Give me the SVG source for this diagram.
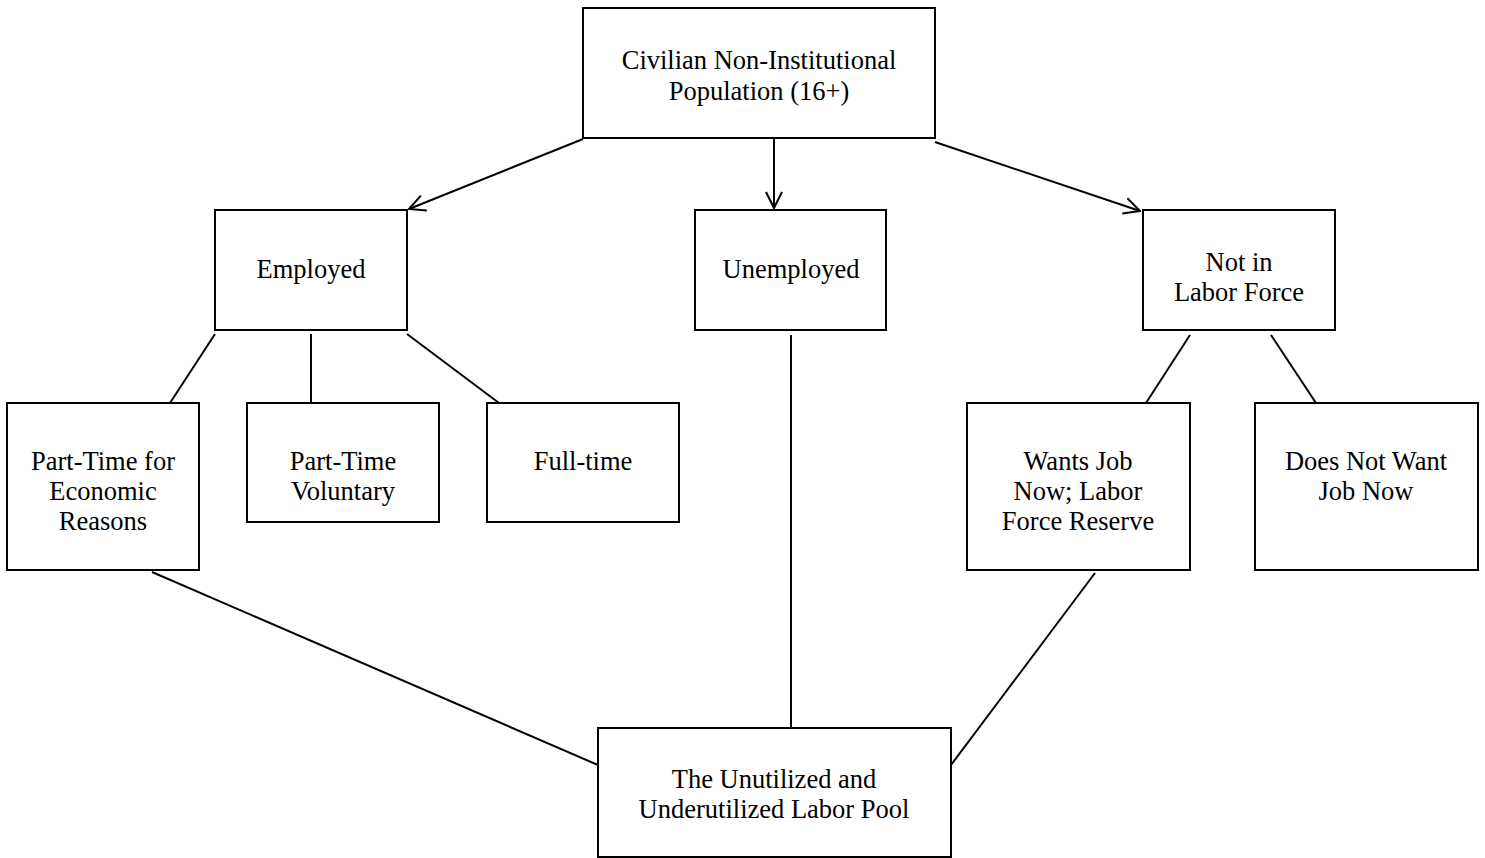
<svg xmlns="http://www.w3.org/2000/svg" width="1485" height="858" viewBox="0 0 1485 858">
<style>
.box{fill:#fff;stroke:#000;stroke-width:2}
.ln{stroke:#000;stroke-width:2;fill:none}
text{font-family:"Liberation Serif","Times New Roman",serif;font-size:26.5px;fill:#000;text-anchor:middle}
</style>
<defs>
<marker id="arr" markerUnits="userSpaceOnUse" markerWidth="20" markerHeight="20" viewBox="0 0 20 20" refX="19" refY="10" orient="auto">
<path d="M3,2 L19,10 L3,18" fill="none" stroke="#000" stroke-width="2"/>
</marker>
</defs>
<rect width="1485" height="858" fill="#fff"/>
<g id="connectors">
<line class="ln" x1="583" y1="139" x2="409" y2="209" marker-end="url(#arr)"/>
<line class="ln" x1="774" y1="139" x2="774" y2="208" marker-end="url(#arr)"/>
<line class="ln" x1="935" y1="142" x2="1140" y2="211" marker-end="url(#arr)"/>
<line class="ln" x1="215" y1="334" x2="170" y2="403"/>
<line class="ln" x1="311" y1="334" x2="311" y2="403"/>
<line class="ln" x1="407" y1="334" x2="499" y2="403"/>
<line class="ln" x1="1190" y1="335" x2="1146" y2="403"/>
<line class="ln" x1="1271" y1="335" x2="1316" y2="403"/>
<line class="ln" x1="791" y1="335" x2="791" y2="728"/>
<line class="ln" x1="152" y1="572" x2="598" y2="765"/>
<line class="ln" x1="1095" y1="573" x2="951" y2="765"/>
</g>
<g id="population">
<rect class="box" x="583" y="8" width="352" height="130"/>
<text x="759" y="69">Civilian Non-Institutional</text>
<text x="759" y="100">Population (16+)</text>
</g>
<g id="employed">
<rect class="box" x="215" y="210" width="192" height="120"/>
<text x="311" y="278">Employed</text>
</g>
<g id="unemployed">
<rect class="box" x="695" y="210" width="191" height="120"/>
<text x="791" y="278">Unemployed</text>
</g>
<g id="not-in-labor-force">
<rect class="box" x="1143" y="210" width="192" height="120"/>
<text x="1239" y="271">Not in</text>
<text x="1239" y="301">Labor Force</text>
</g>
<g id="part-time-economic">
<rect class="box" x="7" y="403" width="192" height="167"/>
<text x="103" y="470">Part-Time for</text>
<text x="103" y="500">Economic</text>
<text x="103" y="530">Reasons</text>
</g>
<g id="part-time-voluntary">
<rect class="box" x="247" y="403" width="192" height="119"/>
<text x="343" y="470">Part-Time</text>
<text x="343" y="500">Voluntary</text>
</g>
<g id="full-time">
<rect class="box" x="487" y="403" width="192" height="119"/>
<text x="583" y="470">Full-time</text>
</g>
<g id="wants-job">
<rect class="box" x="967" y="403" width="223" height="167"/>
<text x="1078" y="470">Wants Job</text>
<text x="1078" y="500">Now; Labor</text>
<text x="1078" y="530">Force Reserve</text>
</g>
<g id="does-not-want">
<rect class="box" x="1255" y="403" width="223" height="167"/>
<text x="1366" y="470">Does Not Want</text>
<text x="1366" y="500">Job Now</text>
</g>
<g id="labor-pool">
<rect class="box" x="598" y="728" width="353" height="129"/>
<text x="774" y="788">The Unutilized and</text>
<text x="774" y="818">Underutilized Labor Pool</text>
</g>
</svg>
